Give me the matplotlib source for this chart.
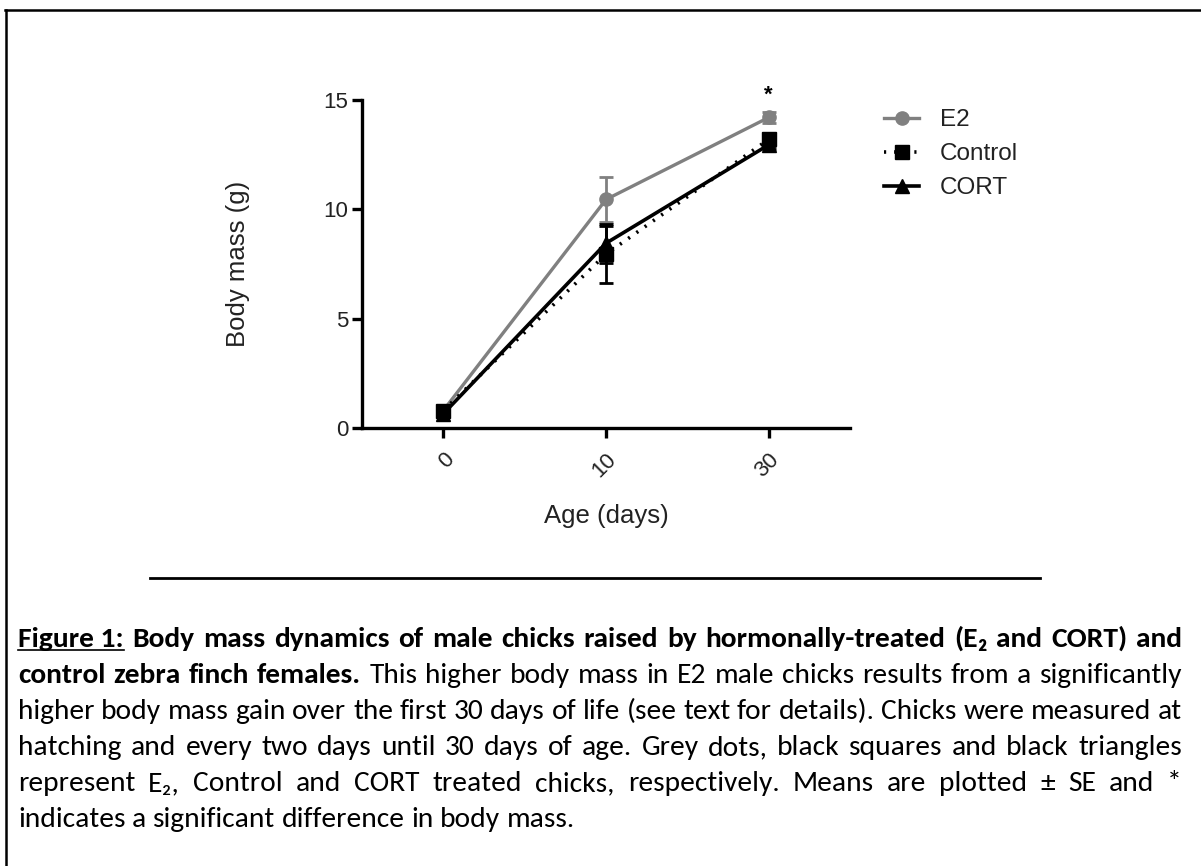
import matplotlib
matplotlib.use('Agg')
import matplotlib.pyplot as plt
import matplotlib.transforms as mtransforms
from matplotlib import font_manager
from matplotlib.lines import Line2D

# Data
ages = ['0', '10', '30']
e2_mean = [0.8, 10.45, 14.2]
e2_se = [0.1, 1.05, 0.25]
ctrl_mean = [0.8, 7.95, 13.2]
ctrl_se = [0.15, 1.3, 0.3]
cort_mean = [0.65, 8.45, 12.95]
cort_se = [0.1, 0.9, 0.2]
signif = ['', '', '*']

W, H = 1201, 866
plt.rcParams['font.family'] = ['Liberation Sans', 'DejaVu Sans']
fig = plt.figure(figsize=(W / 100, H / 100), dpi=100)


def fx(px):
    return px / W


def fy(py):
    return 1 - py / H


ax = fig.add_axes([fx(362), fy(428), fx(850) - fx(362), fy(100) - fy(428)])
x = list(range(len(ages)))

grey = '#808080'
ax.errorbar(x, e2_mean, yerr=e2_se, color=grey, marker='o', ms=9.5, lw=2.4,
            capsize=5, elinewidth=2, capthick=2, label='E2', zorder=3)
ax.errorbar(x, ctrl_mean, yerr=ctrl_se, color='black', marker='s', ms=9.5, lw=2.6,
            ls=(0, (0.6, 2.2)), capsize=5, elinewidth=2, capthick=2, label='Control', zorder=4)
ax.errorbar(x, cort_mean, yerr=cort_se, color='black', marker='^', ms=9.5, lw=2.6,
            capsize=5, elinewidth=2, capthick=2, label='CORT', zorder=4)

for i, s in enumerate(signif):
    if s:
        ax.text(x[i], e2_mean[i] + e2_se[i] + 0.3, s, ha='center', va='bottom',
                fontsize=16, fontweight='bold')

ax.set_xlim(-0.5, 2.5)
ax.set_ylim(0, 15)
ax.set_yticks([0, 5, 10, 15])
ax.set_xticks(x)
ax.set_xticklabels(ages, rotation=45, ha='right', rotation_mode='anchor')
shift = mtransforms.ScaledTranslation(-5 / 100, -2 / 100, fig.dpi_scale_trans)
for lab in ax.get_xticklabels():
    lab.set_transform(lab.get_transform() + shift)
for sp in ['top', 'right']:
    ax.spines[sp].set_visible(False)
for sp in ['left', 'bottom']:
    ax.spines[sp].set_linewidth(2.4)
ax.tick_params(width=2.4, length=7, labelsize=16, color='black', labelcolor='#222222', pad=3)
ax.tick_params(axis='x', pad=8)
ax.set_xlabel('Age (days)', fontsize=18.5, color='#222222', va='top')
ax.set_ylabel('Body mass (g)', fontsize=18.5, color='#222222', va='bottom')
ax.xaxis.set_label_coords(0.5, -(504 - 428) / 328)
ax.yaxis.set_label_coords((250 - 362) / 488, 0.5)

handles = [
    Line2D([], [], color=grey, marker='o', ms=9.5, lw=2.4),
    Line2D([], [], color='black', marker='s', ms=9.5, lw=2.6, ls=(0, (0.6, 2.2))),
    Line2D([], [], color='black', marker='^', ms=9.5, lw=2.6),
]
fig.legend(handles, ['E2', 'Control', 'CORT'], loc='upper left',
           bbox_to_anchor=(fx(884), fy(109)), frameon=False, fontsize=17.5,
           handlelength=1.44, labelspacing=0.5, handletextpad=0.86,
           borderpad=0, borderaxespad=0, labelcolor='#222222')

# frame lines and separator
fig.add_artist(Line2D([fx(5), fx(1201)], [fy(10), fy(10)], color='black', lw=1.8))
fig.add_artist(Line2D([fx(6), fx(6)], [fy(10), fy(866)], color='black', lw=1.8))
fig.add_artist(Line2D([fx(150), fx(1040)], [fy(578), fy(578)], color='black', lw=2))

# caption font
names = {f.name for f in font_manager.fontManager.ttflist}
cap_font = 'Lato'
for cand in ['Carlito', 'Liberation Sans Narrow', 'Lato', 'Open Sans']:
    if cand in names:
        cap_font = cand
        break
fam = [cap_font, 'DejaVu Sans']

caption = [
    [('Figure 1:', 'bold', True), ('Body', 'bold'), ('mass', 'bold'), ('dynamics', 'bold'),
     ('of', 'bold'), ('male', 'bold'), ('chicks', 'bold'), ('raised', 'bold'), ('by', 'bold'),
     ('hormonally-treated', 'bold'), ('(E\u2082', 'bold'), ('and', 'bold'), ('CORT)', 'bold'),
     ('and', 'bold')],
    [(w, 'bold') for w in 'control zebra finch females.'.split()] +
    [(w, 'normal') for w in 'This higher body mass in E2 male chicks results from a significantly'.split()],
    [(w, 'normal') for w in 'higher body mass gain over the first 30 days of life (see text for details). Chicks were measured at'.split()],
    [(w, 'normal') for w in 'hatching and every two days until 30 days of age. Grey dots, black squares and black triangles'.split()],
    [(w, 'normal') for w in 'represent E\u2082, Control and CORT treated chicks, respectively. Means are plotted \u00b1 SE and *'.split()],
    [(w, 'normal') for w in 'indicates a significant difference in body mass.'.split()],
]
left, right = 18, 1182
base0, step = 647, 36
renderer = fig.canvas.get_renderer()


def measure(line, size):
    ws = []
    for tok in line:
        t = fig.text(0, 0, tok[0], fontsize=size, fontweight=tok[1], family=fam)
        ws.append(t.get_window_extent(renderer).width)
        t.remove()
    return ws


def space_width(size):
    a = fig.text(0, 0, 'a a', fontsize=size, family=fam)
    b = fig.text(0, 0, 'aa', fontsize=size, family=fam)
    w = a.get_window_extent(renderer).width - b.get_window_extent(renderer).width
    a.remove()
    b.remove()
    return w


# scale the caption font so the fullest line fits with normal word spacing
size0 = 17.0
sp0 = space_width(size0)
fit = min((right - left) / (sum(measure(l, size0)) + sp0 * (len(l) - 1))
          for l in caption[:-1])
cap_size = size0 * fit
sp = space_width(cap_size)

for li, line in enumerate(caption):
    yb = base0 + li * step
    widths = measure(line, cap_size)
    if li < len(caption) - 1:
        gap = (right - left - sum(widths)) / (len(line) - 1)
    else:
        gap = sp
    xp = left
    for tok, w in zip(line, widths):
        fig.text(fx(xp), fy(yb), tok[0], fontsize=cap_size, fontweight=tok[1],
                 family=fam, va='baseline', ha='left', color='black')
        if len(tok) > 2 and tok[2]:
            fig.add_artist(Line2D([fx(xp), fx(xp + w)], [fy(yb + 3), fy(yb + 3)],
                                  color='black', lw=1.2))
        xp += w + gap

fig.savefig('out.png', dpi=100)
